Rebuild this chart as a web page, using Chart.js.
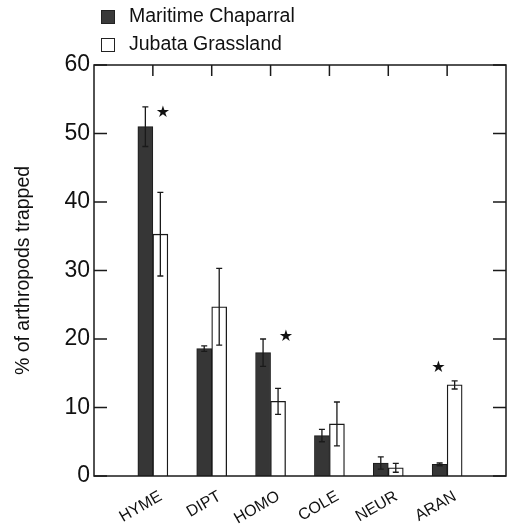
<!DOCTYPE html>
<html>
<head>
<meta charset="utf-8">
<script src="https://cdn.jsdelivr.net/npm/chart.js@4.4.1/dist/chart.umd.min.js"></script>
<style>
  body { margin: 0; background: #fff; }
  #wrap { position: relative; width: 507px; height: 530px; }
  .leg { position: absolute; left: 101px; font: 19.5px "Liberation Sans", Arial, sans-serif; color: #111; display: flex; align-items: center; }
  .sw { width: 12px; height: 12px; border: 1px solid #222; margin-right: 14px; margin-top: 2px; }
</style>
</head>
<body>
<div id="wrap">
  <canvas id="c" width="507" height="530"></canvas>
  <div class="leg" style="top:4px"><span class="sw" style="background:#3a3a3a"></span>Maritime Chaparral</div>
  <div class="leg" style="top:32px"><span class="sw" style="background:#fff"></span>Jubata Grassland</div>
</div>
<script>
// categories (arthropod orders)
const categories = ["HYME", "DIPT", "HOMO", "COLE", "NEUR", "ARAN"];

// % of arthropods trapped, mean values
const chaparral = [51, 18.6, 18, 5.9, 1.9, 1.7];
const grassland = [35.3, 24.7, 10.9, 7.6, 1.2, 13.3];

// error bar half-widths
const chaparralErr = [2.9, 0.4, 2.0, 0.9, 0.9, 0.2];
const grasslandErr = [6.1, 5.6, 1.9, 3.2, 0.65, 0.6];

// significance stars (x in category units, y in %)
const starX = [1.17, 3.26, 5.85];
const starY = [53.0, 20.3, 15.8];

const yTicks = [0, 10, 20, 30, 40, 50, 60];

const frame = {
  id: "frame",
  afterDatasetsDraw(chart) {
    const { ctx, chartArea: a, scales: { x, y } } = chart;
    ctx.save();
    ctx.strokeStyle = "#1a1a1a";

    // error bars
    ctx.lineWidth = 1.3;
    [[chaparral, chaparralErr], [grassland, grasslandErr]].forEach(([vals, errs], d) => {
      const meta = chart.getDatasetMeta(d);
      meta.data.forEach((bar, i) => {
        const top = y.getPixelForValue(vals[i] + errs[i]);
        const bot = y.getPixelForValue(vals[i] - errs[i]);
        ctx.beginPath();
        ctx.moveTo(bar.x, top); ctx.lineTo(bar.x, bot);
        ctx.moveTo(bar.x - 3, top); ctx.lineTo(bar.x + 3, top);
        ctx.moveTo(bar.x - 3, bot); ctx.lineTo(bar.x + 3, bot);
        ctx.stroke();
      });
    });

    // frame box
    ctx.lineWidth = 1.5;
    ctx.strokeRect(a.left, a.top, a.right - a.left, a.bottom - a.top);

    // inward ticks
    ctx.beginPath();
    yTicks.forEach(v => {
      const py = y.getPixelForValue(v);
      ctx.moveTo(a.left, py); ctx.lineTo(a.left + 13, py);
      ctx.moveTo(a.right, py); ctx.lineTo(a.right - 13, py);
    });
    categories.forEach((c, i) => {
      const px = x.getPixelForValue(i + 1);
      ctx.moveTo(px, a.top); ctx.lineTo(px, a.top + 11);
    });
    ctx.stroke();

    // stars
    ctx.fillStyle = "#111";
    ctx.font = "16px 'DejaVu Sans'";
    ctx.textAlign = "center";
    ctx.textBaseline = "middle";
    starX.forEach((sx, k) => ctx.fillText("★", x.getPixelForValue(sx), y.getPixelForValue(starY[k])));
    ctx.restore();
  }
};

new Chart(document.getElementById("c"), {
  type: "bar",
  data: {
    datasets: [
      {
        label: "Maritime Chaparral",
        data: chaparral.map((v, i) => ({ x: i + 1, y: v })),
        backgroundColor: "#363636",
        borderColor: "#1a1a1a",
        borderWidth: 1,
        barThickness: 15
      },
      {
        label: "Jubata Grassland",
        data: grassland.map((v, i) => ({ x: i + 1, y: v })),
        backgroundColor: "#ffffff",
        borderColor: "#1a1a1a",
        borderWidth: 1.3,
        barThickness: 15
      }
    ]
  },
  options: {
    responsive: false,
    animation: false,
    layout: { padding: { top: 65, right: 1 } },
    plugins: { legend: { display: false }, tooltip: { enabled: false } },
    scales: {
      x: {
        type: "linear",
        offset: false,
        min: 0,
        max: 7,
        afterBuildTicks: s => { s.ticks = categories.map((c, i) => ({ value: i + 1 })); },
        afterFit: s => { s.height = 54; },
        grid: { display: false, drawTicks: false, offset: false },
        border: { display: false },
        ticks: {
          autoSkip: false,
          minRotation: 30,
          maxRotation: 30,
          padding: 11,
          labelOffset: 8,
          color: "#111",
          font: { family: "'Liberation Sans', Arial", size: 16 },
          callback: v => categories[v - 1]
        }
      },
      y: {
        min: 0,
        max: 60,
        afterBuildTicks: s => { s.ticks = yTicks.map(v => ({ value: v })); },
        afterFit: s => { s.width = 94; },
        grid: { display: false, drawTicks: false },
        border: { display: false },
        ticks: {
          padding: 4,
          color: "#111",
          font: { family: "'Liberation Sans', Arial", size: 23 }
        },
        title: {
          display: true,
          text: "% of arthropods trapped",
          color: "#111",
          padding: { top: 12, bottom: 0 },
          font: { family: "'Liberation Sans', Arial", size: 19.5 }
        }
      }
    }
  },
  plugins: [frame]
});
</script>
</body>
</html>
